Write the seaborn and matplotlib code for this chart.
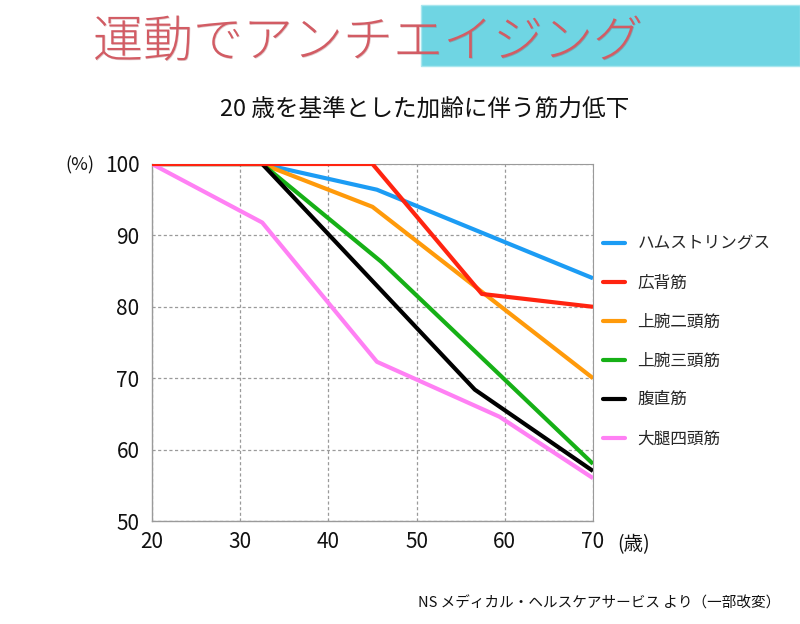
import matplotlib
matplotlib.use("Agg")
import matplotlib.pyplot as plt
import matplotlib.patheffects as pe
from matplotlib.patches import Rectangle
from matplotlib.lines import Line2D
import seaborn as sns
import pandas as pd

# ---- data ----
muscles = ["ハムストリングス", "広背筋", "上腕二頭筋", "上腕三頭筋", "腹直筋", "大腿四頭筋"]
colors = ["#1c9cf4", "#ff2410", "#ff9a0a", "#16b016", "#000000", "#ff80f4"]
ages_hams = [20, 32.5, 45.5, 70]
vals_hams = [100, 100, 96.4, 84]
ages_lat = [20, 45, 57.4, 70]
vals_lat = [100, 100, 81.8, 80]
ages_bic = [20, 32.5, 45, 70]
vals_bic = [100, 100, 94, 70]
ages_tri = [20, 32.5, 46, 70]
vals_tri = [100, 100, 86.3, 58]
ages_abd = [20, 32.5, 56.6, 70]
vals_abd = [100, 100, 68.4, 57]
ages_quad = [20, 32.5, 45.5, 59.4, 70]
vals_quad = [100, 91.8, 72.3, 64.6, 56]
x_ticks = [20, 30, 40, 50, 60, 70]
y_ticks = [50, 60, 70, 80, 90, 100]

series_x = [ages_hams, ages_lat, ages_bic, ages_tri, ages_abd, ages_quad]
series_y = [vals_hams, vals_lat, vals_bic, vals_tri, vals_abd, vals_quad]
rows = []
for m, xs, ys in zip(muscles, series_x, series_y):
    for a, v in zip(xs, ys):
        rows.append({"age": a, "strength": v, "muscle": m})
df = pd.DataFrame(rows)

sns.set_theme(style="white")
plt.rcParams["font.family"] = ["Noto Sans CJK JP", "DejaVu Sans"]

W, H = 800, 624
fig = plt.figure(figsize=(8, 6.24), dpi=100)

def fx(px):
    return px / W

def fy(py):
    return 1 - py / H

# cyan banner
fig.patches.append(Rectangle((fx(421), fy(66)), fx(800) - fx(421), fy(5) - fy(66),
                             transform=fig.transFigure, facecolor="#6fd5e3", edgecolor="#a8e6ee",
                             lw=1, zorder=1))
fig.text(fx(368), fy(43), "運動でアンチエイジング", ha="center", va="center", fontsize=36,
         color="#d25c64", zorder=3, fontweight="light",
         path_effects=[pe.withSimplePatchShadow(offset=(0.5, -0.5), shadow_rgbFace="#8a2a30", alpha=0.25)])

fig.text(fx(425), fy(110), "20 歳を基準とした加齢に伴う筋力低下", ha="center", va="center",
         fontsize=17, color="#111111")

ax = fig.add_axes([fx(152), fy(521), fx(593) - fx(152), fy(164) - fy(521)])
ax.set_facecolor("white")
palette = dict(zip(muscles, colors))
sns.lineplot(data=df, x="age", y="strength", hue="muscle", hue_order=muscles, palette=palette,
             estimator=None, sort=False, linewidth=3, ax=ax, legend=False)
zorders = {"ハムストリングス": 3, "広背筋": 8, "上腕二頭筋": 4, "上腕三頭筋": 5, "腹直筋": 6, "大腿四頭筋": 7}
for line, m in zip(ax.lines, muscles):
    line.set_zorder(zorders[m])
    line.set_solid_capstyle("butt")

ax.set_xlim(20, 70)
ax.set_ylim(50, 100)
ax.set_xticks(x_ticks)
ax.set_yticks(y_ticks)
ax.set_xticklabels([str(t) for t in x_ticks])
ax.set_yticklabels([str(t) for t in y_ticks])
ax.tick_params(axis="both", length=0, labelsize=15, colors="#111111")
ax.tick_params(axis="y", pad=9)
ax.tick_params(axis="x", pad=7)
ax.set_xlabel("")
ax.set_ylabel("")
ax.grid(True, linestyle=(0, (2.5, 2)), color="#9a9a9a", linewidth=0.9)
for s in ax.spines.values():
    s.set_visible(True)
    s.set_color("#9a9a9a")
    s.set_linewidth(1)
ax.spines["top"].set_linewidth(0.8)
ax.spines["right"].set_linewidth(0.8)

fig.text(fx(65), fy(165), "(%)", ha="left", va="center", fontsize=13, color="#111111")
fig.text(fx(617), fy(545), "(歳)", ha="left", va="center", fontsize=14, color="#111111")

handles = [Line2D([0], [0], color=c, lw=3, solid_capstyle="round") for c in colors]
fig.legend(handles, muscles, loc="upper left", bbox_to_anchor=(fx(600), fy(232)),
           frameon=False, fontsize=12, handlelength=1.3, handletextpad=0.75,
           labelspacing=1.32, borderaxespad=0, borderpad=0.2)

fig.text(fx(780), fy(603), "NS メディカル・ヘルスケアサービス より（一部改変）", ha="right",
         va="center", fontsize=10.5, color="#111111")

fig.savefig("out.png", dpi=100)
